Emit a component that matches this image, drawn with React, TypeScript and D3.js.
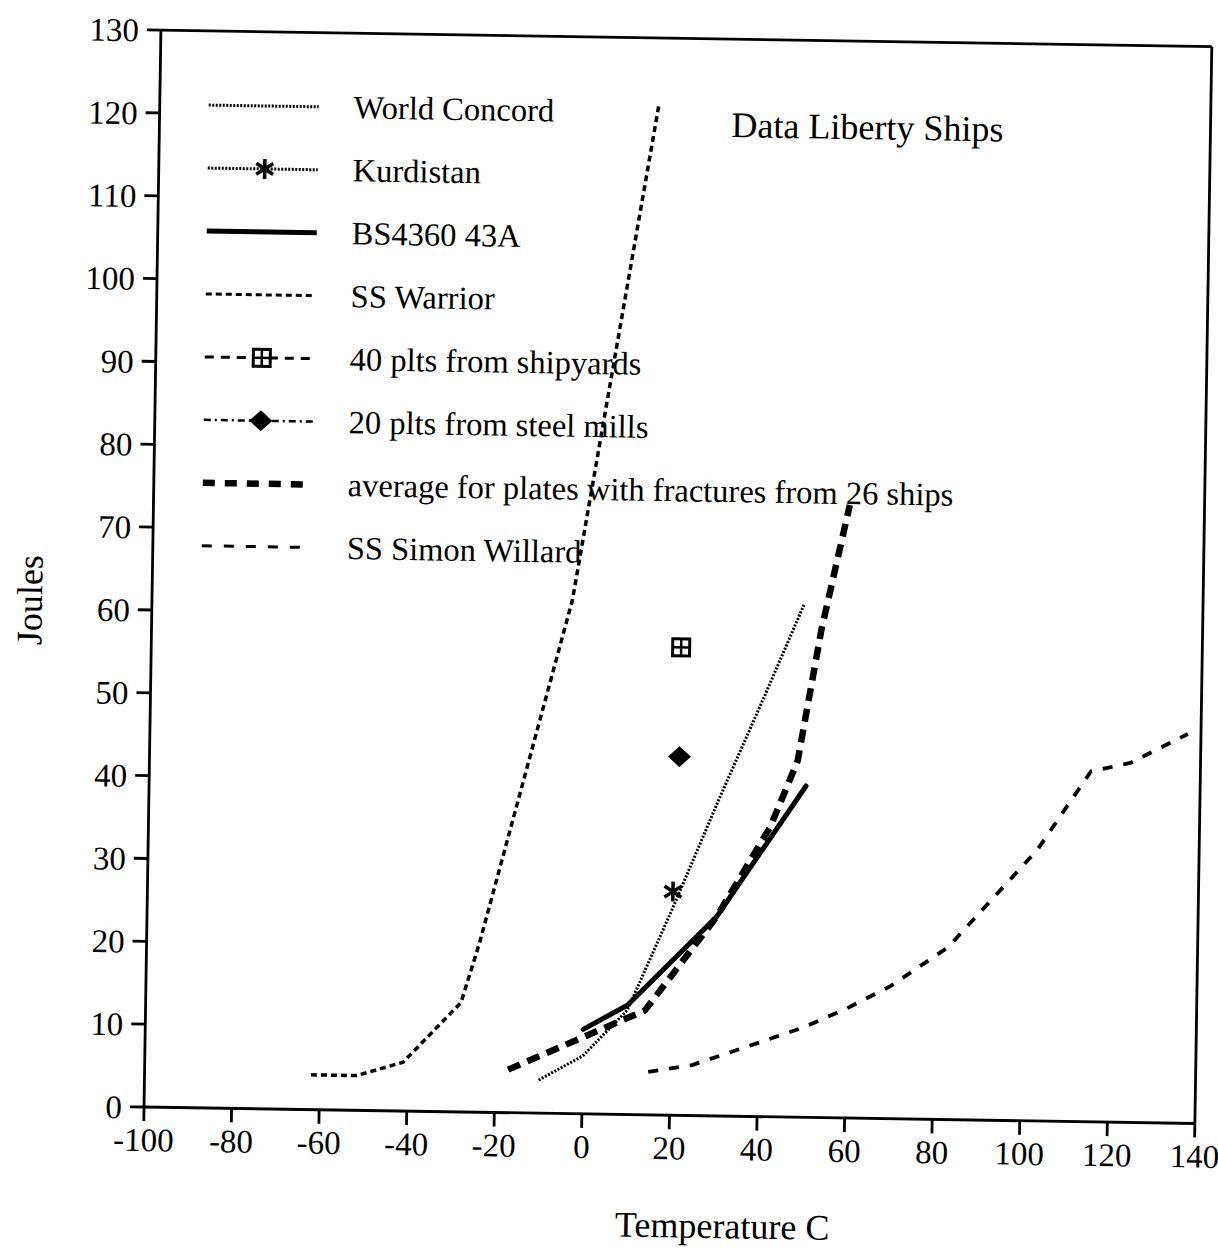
import React from 'react';
import * as d3 from 'd3';

// ---- axis ticks ----
const xTicks = [-100, -80, -60, -40, -20, 0, 20, 40, 60, 80, 100, 120, 140];
const yTicks = [0, 10, 20, 30, 40, 50, 60, 70, 80, 90, 100, 110, 120, 130];

// ---- series data (Temperature C, Joules) ----
const worldConcordTemp = [-10, 0, 10, 20, 30, 40, 49];
const worldConcordJoules = [4, 7, 12.6, 25, 38, 50.5, 62];

const kurdistanTemp = [20];
const kurdistanJoules = [27];

const bs4360Temp = [0, 10, 30, 50];
const bs4360Joules = [10.2, 13.2, 24, 40];

const warriorTemp = [-62, -51.5, -41, -28, -24, -4, 14];
const warriorJoules = [4.2, 4.2, 5.9, 13.2, 20.4, 62, 122];

const shipyardsTemp = [21];
const shipyardsJoules = [56.5];

const steelMillsTemp = [21];
const steelMillsJoules = [43.3];

const averageTemp = [-17, 14, 30, 42, 48, 53, 59];
const averageJoules = [5.2, 12.6, 24, 35, 43, 59, 74];

const willardTemp = [15, 25, 40, 50, 60, 70, 83, 103, 115, 124, 137];
const willardJoules = [5.2, 6.1, 8.9, 10.8, 13.2, 16, 20.8, 32.7, 42.3, 43.4, 47];

const legendLabels = [
  'World Concord',
  'Kurdistan',
  'BS4360 43A',
  'SS Warrior',
  '40 plts from shipyards',
  '20 plts from steel mills',
  'average for plates with fractures from 26 ships',
  'SS Simon Willard',
];

const chartTitle = 'Data Liberty Ships';
const xTitle = 'Temperature C';
const yTitle = 'Joules';

const FONT = '"Liberation Serif", "Times New Roman", Times, serif';

const x = d3.scaleLinear().domain([-100, 140]).range([144, 1195]);
const y = d3.scaleLinear().domain([0, 130]).range([1107, 30]);

const pairs = (t: number[], j: number[]) => t.map((v, i) => [v, j[i]] as [number, number]);
const lineGen = d3
  .line<[number, number]>()
  .x((d) => x(d[0]))
  .y((d) => y(d[1]));

const Asterisk = ({ cx, cy }: { cx: number; cy: number }) => (
  <path
    transform={`translate(${cx},${cy})`}
    d="M0,-10V10 M-8.5,-5.5L8.5,5.5 M-8.5,5.5L8.5,-5.5"
    stroke="#000"
    strokeWidth={3.5}
    fill="none"
  />
);

const BoxPlus = ({ cx, cy }: { cx: number; cy: number }) => (
  <g transform={`translate(${cx},${cy})`}>
    <rect x={-8.5} y={-8.5} width={17} height={17} fill="#fff" stroke="#000" strokeWidth={3} />
    <path d="M0,-8.5V8.5 M-8.5,0H8.5" stroke="#000" strokeWidth={2.5} />
  </g>
);

const Diamond = ({ cx, cy }: { cx: number; cy: number }) => (
  <path transform={`translate(${cx},${cy})`} d="M0,-10.5L11.5,0L0,10.5L-11.5,0Z" fill="#000" />
);

export default function App() {
  const legendTop = 104.2;
  const legendStep = 62.96;
  const lx0 = 193;
  const lx1 = 303;
  const lmid = 250;
  const textX = 338;

  const legendStyles = [
    { w: 3, dash: '2 1.5', marker: null },
    { w: 3, dash: '2 1.5', marker: 'ast' },
    { w: 5, dash: null, marker: null },
    { w: 3, dash: '6 4', marker: null },
    { w: 3, dash: '9 7', marker: 'box' },
    { w: 2.5, dash: '7 4 2 4', marker: 'dia' },
    { w: 6.5, dash: '12 10', marker: null },
    { w: 3, dash: '10 12', marker: null },
  ];

  return (
    <svg
      width={1218}
      height={1250}
      style={{ position: 'absolute', left: 0, top: 0, display: 'block', background: '#fff' }}
      fontFamily={FONT}
    >
      <rect x={0} y={0} width={1218} height={1250} fill="#fff" />
      <g transform="rotate(0.9 144 1107)">
        {/* frame */}
        <g stroke="#000" strokeWidth={2.8} fill="none">
          <line x1={x(-100)} x2={x(-100)} y1={y(0)} y2={y(130)} />
          <line x1={x(-100)} x2={x(140)} y1={y(0)} y2={y(0)} />
          <line x1={x(-100)} x2={x(140)} y1={y(130)} y2={y(130)} />
          <line x1={x(140)} x2={x(140)} y1={y(0)} y2={y(130)} />
        </g>
        {/* y ticks */}
        {yTicks.map((t) => (
          <g key={'y' + t}>
            <line x1={x(-100) - 14} x2={x(-100)} y1={y(t)} y2={y(t)} stroke="#000" strokeWidth={2.8} />
            <text x={122} y={y(t)} dy="0.35em" textAnchor="end" fontSize={33} fill="#000">
              {t}
            </text>
          </g>
        ))}
        {/* x ticks */}
        {xTicks.map((t) => (
          <g key={'x' + t}>
            <line x1={x(t)} x2={x(t)} y1={y(0)} y2={y(0) + 14} stroke="#000" strokeWidth={2.8} />
            <text x={x(t)} y={1151} textAnchor="middle" fontSize={33} fill="#000">
              {t}
            </text>
          </g>
        ))}

        {/* series */}
        <g fill="none" stroke="#000">
          <path d={lineGen(pairs(warriorTemp, warriorJoules)) || ''} strokeWidth={3.5} strokeDasharray="6 4" />
          <path d={lineGen(pairs(worldConcordTemp, worldConcordJoules)) || ''} strokeWidth={3} strokeDasharray="2 1.6" />
          <path d={lineGen(pairs(willardTemp, willardJoules)) || ''} strokeWidth={3.8} strokeDasharray="10 11" />
          <path d={lineGen(pairs(averageTemp, averageJoules)) || ''} strokeWidth={6.5} strokeDasharray="13 8" />
          <path d={lineGen(pairs(bs4360Temp, bs4360Joules)) || ''} strokeWidth={5} strokeLinecap="round" />
        </g>
        {kurdistanTemp.map((t, i) => (
          <Asterisk key={'k' + i} cx={x(t)} cy={y(kurdistanJoules[i])} />
        ))}
        {shipyardsTemp.map((t, i) => (
          <BoxPlus key={'s' + i} cx={x(t)} cy={y(shipyardsJoules[i])} />
        ))}
        {steelMillsTemp.map((t, i) => (
          <Diamond key={'m' + i} cx={x(t)} cy={y(steelMillsJoules[i])} />
        ))}

        {/* legend */}
        {legendLabels.map((label, i) => {
          const ly = legendTop + legendStep * i;
          const st = legendStyles[i];
          return (
            <g key={'lg' + i}>
              <line
                x1={lx0}
                x2={lx1}
                y1={ly}
                y2={ly}
                stroke="#000"
                strokeWidth={st.w}
                strokeDasharray={st.dash || undefined}
              />
              {st.marker === 'ast' && <Asterisk cx={lmid} cy={ly} />}
              {st.marker === 'box' && <BoxPlus cx={lmid} cy={ly} />}
              {st.marker === 'dia' && <Diamond cx={lmid} cy={ly} />}
              <text x={textX} y={ly + 11} fontSize={32.5} fill="#000">
                {label}
              </text>
            </g>
          );
        })}

        {/* titles */}
        <text x={716} y={128} fontSize={36} fill="#000">
          {chartTitle}
        </text>
        <text x={724} y={1229} textAnchor="middle" fontSize={36} fill="#000">
          {xTitle}
        </text>
        <text transform="translate(34,602) rotate(-90)" textAnchor="middle" fontSize={36} fill="#000">
          {yTitle}
        </text>
      </g>
    </svg>
  );
}
